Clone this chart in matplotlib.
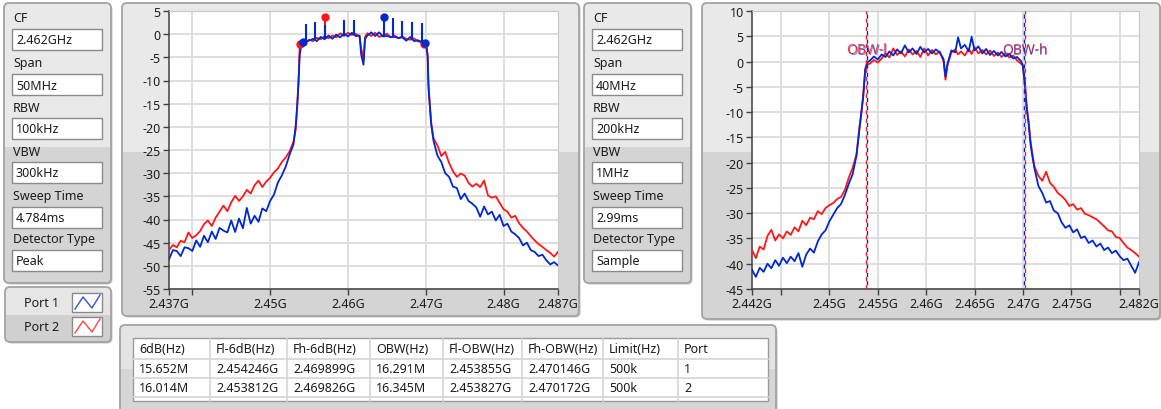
import numpy as np
import matplotlib
matplotlib.use('Agg')
import matplotlib.pyplot as plt
from matplotlib.patches import FancyBboxPatch, Rectangle

plt.rcParams['font.family'] = ['Noto Sans', 'DejaVu Sans']

W, H = 1161, 410
BLUE = '#0028d0'
RED = '#ff1616'
TXT = '#1c1c1c'

# ---- settings / legend / table ----
set_labels = ['CF', 'Span', 'RBW', 'VBW', 'Sweep Time', 'Detector Type']
set1_values = ['2.462GHz', '50MHz', '100kHz', '300kHz', '4.784ms', 'Peak']
set2_values = ['2.462GHz', '40MHz', '200kHz', '1MHz', '2.99ms', 'Sample']
legend_names = ['Port 1', 'Port 2']
table_head = ['6dB(Hz)', 'Fl-6dB(Hz)', 'Fh-6dB(Hz)', 'OBW(Hz)', 'Fl-OBW(Hz)',
              'Fh-OBW(Hz)', 'Limit(Hz)', 'Port']
table_rows = [['15.652M', '2.454246G', '2.469899G', '16.291M', '2.453855G', '2.470146G', '500k', '1'],
              ['16.014M', '2.453812G', '2.469826G', '16.345M', '2.453827G', '2.470172G', '500k', '2']]

# ---- chart 1 (span 50 MHz), frequencies in MHz ----
c1_xticks = [2.437, 2.44, 2.45, 2.46, 2.47, 2.48, 2.487]
c1_xlabels = ['2.437G', '', '2.45G', '2.46G', '2.47G', '2.48G', '2.487G']
c1_xgrid = [2.44, 2.45, 2.46, 2.47, 2.48]
c1_yticks = [5, 0, -5, -10, -15, -20, -25, -30, -35, -40, -45, -50, -55]

f1 = [2437.0, 2437.5, 2438.0, 2438.5, 2439.0, 2439.5, 2440.0, 2440.5, 2441.0, 2441.5,
      2442.0, 2442.5, 2443.0, 2443.5, 2444.0, 2444.5, 2445.0, 2445.5, 2446.0, 2446.5,
      2447.0, 2447.5, 2448.0, 2448.5, 2449.0, 2449.5, 2450.0, 2450.5, 2451.0, 2451.5,
      2452.0, 2452.5, 2453.0,
      2453.3, 2453.5, 2453.65, 2453.8, 2454.0, 2454.25,
      2454.5, 2455.0, 2455.5, 2456.0, 2456.5, 2457.0, 2457.5, 2458.0, 2458.5, 2459.0,
      2459.5, 2460.0, 2460.5, 2461.0, 2461.5, 2461.7, 2462.0, 2462.2, 2462.5, 2463.0,
      2463.5, 2464.0, 2464.5, 2465.0, 2465.5, 2466.0, 2466.5, 2467.0, 2467.5, 2468.0,
      2468.5, 2469.0, 2469.5,
      2469.9, 2470.1, 2470.25, 2470.35, 2470.5, 2470.7, 2471.0,
      2471.5, 2472.0, 2472.5, 2473.0, 2473.5, 2474.0, 2474.5, 2475.0, 2475.5, 2476.0,
      2476.5, 2477.0, 2477.5, 2478.0, 2478.5, 2479.0, 2479.5, 2480.0, 2480.5, 2481.0,
      2481.5, 2482.0, 2482.5, 2483.0, 2483.5, 2484.0, 2484.5, 2485.0, 2485.5, 2486.0,
      2486.5, 2487.0]
c1_port1 = [-48.6, -46.6, -46.8, -47.9, -46.0, -46.2, -46.8, -44.5, -45.9, -43.5,
            -44.9, -42.6, -44.2, -41.8, -42.4, -42.8, -40.2, -42.7, -39.8, -41.9,
            -37.5, -40.9, -39.2, -40.5, -37.6, -38.2, -36.0, -34.6, -32.0, -30.5,
            -28.6, -26.0, -23.8,
            -19.5, -14.8, -10.0, -4.5, -2.4, -1.9,
            -1.6, -1.4, -1.0, -1.5, -0.6, -1.1, -0.3, -1.0, -0.1, -0.7,
            0.2, -0.5, 0.3, -0.4, -0.3, -4.4, -6.6, -1.0, -0.3, 0.4,
            -0.4, 0.4, -0.5, -0.4, -0.6, -0.6, -0.8, -0.7, -1.4, -0.6,
            -1.5, -1.3, -1.9,
            -2.0, -2.6, -5.0, -11.5, -15.0, -19.5, -23.0,
            -26.2, -27.6, -30.0, -30.8, -32.9, -33.2, -35.6, -34.4, -36.0, -36.6,
            -37.4, -39.4, -37.2, -38.9, -38.3, -40.2, -39.0, -41.4, -40.9, -42.6,
            -43.2, -44.0, -45.6, -45.0, -46.6, -47.0, -47.9, -47.6, -48.8, -49.7,
            -49.2, -49.9]
c1_port2 = [-46.6, -45.5, -46.0, -44.6, -44.9, -42.8, -44.0, -43.4, -42.5, -41.0,
            -40.2, -41.4, -39.6, -38.3, -37.0, -38.2, -36.3, -34.9, -36.0, -35.0,
            -33.6, -34.4, -32.6, -31.6, -33.0, -31.8, -31.0, -29.8, -29.0, -27.6,
            -26.6, -25.3, -23.2,
            -20.5, -15.0, -10.5, -2.3, -2.0, -1.8,
            -1.8, -1.2, -1.5, -0.8, -1.1, -0.4, -0.9, -0.3, -0.7, 0.2,
            -0.4, 0.3, -0.2, 0.1, -0.6, -3.0, -5.5, -0.6, 0.2, -0.4,
            0.3, -0.6, -0.3, 0.1, -0.7, -0.3, -0.9, -0.5, -1.0, -1.2,
            -0.9, -1.6, -1.4,
            -2.2, -3.0, -4.6, -10.5, -14.5, -19.0, -22.5,
            -24.0, -26.3, -25.4, -27.8, -29.6, -30.8, -30.1, -30.5, -32.1, -32.9,
            -32.3, -33.0, -31.6, -34.8, -35.3, -35.0, -36.4, -37.8, -38.3, -39.6,
            -39.2, -40.8, -41.8, -42.6, -43.6, -44.5, -45.3, -45.9, -46.6, -47.2,
            -48.0, -47.0]
# narrow spurs on the in-band part
spur1_f = [2454.57, 2455.81, 2457.09, 2459.53, 2460.74, 2464.59, 2465.79, 2466.99, 2468.28, 2469.48]
spur1_top = [2.2, 2.6, 2.0, 3.1, 3.1, 3.6, 3.4, 2.9, 2.6, 2.4]
spur1_base = [-1.6, -1.1, -0.9, -0.3, 0.0, -0.3, -0.3, -0.6, -1.1, -1.7]
spur2_f = [2457.09]
spur2_top = [3.6]
spur2_base = [-0.6]
mk1_f = [2464.59, 2454.246, 2469.899]
mk1_y = [3.6, -1.7, -1.9]
mk2_f = [2457.09, 2453.812, 2469.826]
mk2_y = [3.6, -2.2, -2.1]

# ---- chart 2 (span 40 MHz) ----
c2_xticks = [2.442, 2.445, 2.45, 2.455, 2.46, 2.465, 2.47, 2.475, 2.48, 2.482]
c2_xlabels = ['2.442G', '', '2.45G', '2.455G', '2.46G', '2.465G', '2.47G', '2.475G', '', '2.482G']
c2_xgrid = [2.445, 2.45, 2.455, 2.46, 2.465, 2.47, 2.475, 2.48]
c2_yticks = [10, 5, 0, -5, -10, -15, -20, -25, -30, -35, -40, -45]

f2 = [2442.0, 2442.4, 2442.8, 2443.2, 2443.6, 2444.0, 2444.4, 2444.8, 2445.2, 2445.6,
      2446.0, 2446.4, 2446.8, 2447.2, 2447.6, 2448.0, 2448.4, 2448.8, 2449.2, 2449.6,
      2450.0, 2450.4, 2450.8, 2451.2, 2451.6, 2452.0, 2452.4, 2452.8,
      2453.1, 2453.3, 2453.5, 2453.7, 2453.9,
      2454.2, 2454.6, 2455.0, 2455.4, 2455.8, 2456.2, 2456.6, 2457.0, 2457.4, 2457.8,
      2458.2, 2458.6, 2459.0, 2459.4, 2459.8, 2460.2, 2460.6, 2461.0, 2461.4, 2461.8,
      2462.0, 2462.2, 2462.6, 2463.0, 2463.3, 2463.6, 2464.0, 2464.4, 2464.7, 2465.0,
      2465.4, 2465.8, 2466.2, 2466.6, 2467.0, 2467.4, 2467.8, 2468.2, 2468.6, 2469.0,
      2469.4, 2469.8,
      2470.0, 2470.2, 2470.4, 2470.6, 2470.8, 2471.0, 2471.2,
      2471.6, 2472.0, 2472.4, 2472.8, 2473.2, 2473.6, 2474.0, 2474.4, 2474.8, 2475.2,
      2475.6, 2476.0, 2476.4, 2476.8, 2477.2, 2477.6, 2478.0, 2478.4, 2478.8, 2479.2,
      2479.6, 2480.0, 2480.4, 2480.8, 2481.2, 2481.6, 2482.0]
c2_port1 = [-41.2, -42.6, -40.8, -41.6, -40.0, -40.9, -39.3, -40.4, -38.8, -39.9,
            -38.6, -39.5, -37.9, -40.6, -38.2, -37.0, -37.8, -35.6, -34.2, -33.4,
            -31.6, -30.3, -29.0, -28.2, -26.4, -24.2, -22.3, -18.6,
            -13.5, -10.0, -7.0, -1.5, -0.2,
            0.2, 1.0, 0.4, 1.4, 0.9, 2.0, 1.2, 2.4, 1.6, 3.2,
            1.8, 2.6, 1.5, 2.9, 1.8, 2.5, 1.6, 2.4, 1.8, 0.5,
            -3.0, -0.5, 2.2, 1.8, 4.8, 2.6, 3.3, 2.0, 4.9, 2.2,
            3.0, 1.6, 2.5, 1.3, 2.1, 1.2, 1.9, 1.0, 1.5, 0.6,
            0.9, 0.1,
            -0.8, -4.6, -9.3, -12.5, -16.5, -19.0, -21.2,
            -24.6, -26.0, -27.9, -27.6, -29.5, -30.0, -31.8, -32.9, -32.4, -33.8,
            -33.2, -34.9, -34.6, -35.9, -35.4, -36.6, -36.0, -37.3, -36.8, -37.9,
            -37.4, -38.5, -39.3, -39.0, -40.4, -41.8, -39.7]
c2_port2 = [-37.3, -38.9, -36.6, -37.2, -34.5, -33.3, -35.4, -34.2, -35.0, -33.6,
            -34.3, -32.8, -33.6, -31.5, -32.4, -30.9, -31.2, -29.6, -30.2, -29.0,
            -28.4, -28.0, -27.2, -26.8, -25.4, -23.0, -21.0, -18.4,
            -13.0, -10.4, -6.4, -1.8, -0.6,
            -0.4, 0.3, -0.2, 0.6, 1.6, 0.8, 2.6, 1.3, 2.0, 1.0,
            2.4, 1.4, 2.1, 0.9, 2.6, 1.2, 2.3, 1.4, 2.0, 0.0,
            -3.6, -0.8, 1.8, 2.4, 1.4, 2.0, 1.2, 2.5, 1.5, 2.8,
            1.6, 2.3, 1.4, 2.2, 1.1, 1.8, 0.9, 1.6, 0.8, 1.2,
            0.2, -0.4,
            -0.9, -4.0, -9.0, -12.0, -15.9, -18.5, -20.8,
            -22.6, -23.6, -21.8, -24.0, -24.8, -26.0, -26.6, -27.4, -28.6, -28.2,
            -29.3, -29.0, -30.1, -30.4, -30.8, -31.2, -31.9, -32.6, -33.4, -33.6,
            -34.7, -34.9, -35.9, -36.8, -37.3, -37.9, -38.6]
obw1 = [2.453855, 2.470146]
obw2 = [2.453827, 2.470172]
obw_names = ['OBW-l', 'OBW-h']
obw_label_y = 2.3

fig = plt.figure(figsize=(W / 100, H / 100), dpi=100)
fig.patch.set_facecolor('white')
bg = fig.add_axes([0, 0, 1, 1])
bg.set_xlim(0, W)
bg.set_ylim(H, 0)
bg.axis('off')


def panel(x, y, w, h, split=None, light='#e9e9e9', dark='#d4d4d4'):
    bg.add_patch(FancyBboxPatch((x + 1.5, y + 1.5), w, h, boxstyle='round,pad=0,rounding_size=5',
                                fc='#c4c4c4', ec='none'))
    p = FancyBboxPatch((x, y), w, h, boxstyle='round,pad=0,rounding_size=5', fc=dark, ec='none')
    bg.add_patch(p)
    if split is not None:
        r = Rectangle((x, y), w, split - y, fc=light, ec='none')
        bg.add_patch(r)
        r.set_clip_path(p)
    bg.add_patch(FancyBboxPatch((x, y), w, h, boxstyle='round,pad=0,rounding_size=5',
                                fc='none', ec='#a3a3a3', lw=1.3))


def textbox(x, y, w, h, s):
    bg.add_patch(Rectangle((x, y), w, h, fc='white', ec='#8a8a8a', lw=1))
    bg.text(x + 4, y + h / 2 + 0.5, s, fontsize=9, color=TXT, va='center', ha='left')


label_y = [19, 64, 108, 153, 197, 240]
box_y = [30, 75, 119, 163, 208, 251]
for px, vals in [(4, set1_values), (584, set2_values)]:
    panel(px, 4, 107, 280, split=148)
    for lab, ly, by, v in zip(set_labels, label_y, box_y, vals):
        bg.text(px + 9, ly, lab, fontsize=9, color=TXT, va='center', ha='left')
        textbox(px + 8, by, 90, 21, v)

# legend
panel(5, 288, 106, 55, split=316, light='#e6e6e6', dark='#d0d0d0')
for i, (name, col) in enumerate(zip(legend_names, [BLUE, RED])):
    yc = 304 + 24 * i
    bg.text(24, yc, name, fontsize=9, color=TXT, va='center', ha='left')
    bg.add_patch(Rectangle((72, yc - 10), 30, 19, fc='white', ec='#8a8a8a', lw=1))
    bg.plot([75, 83, 92, 100], [yc + 6, yc - 6, yc + 5, yc - 8], color=col, lw=1, alpha=0.8)

# table
panel(120, 326, 656, 100, split=370, light='#e4e4e4', dark='#d6d6d6')
col_x = [133, 210, 287, 370, 443, 522, 603, 678, 768]
bg.add_patch(Rectangle((133, 339), 635, 63, fc='white', ec='#9a9a9a', lw=1))
for yl in [360, 379, 398]:
    bg.plot([133, 768], [yl, yl], color='#d4d4d4', lw=1.2)
for xl in col_x[1:-1]:
    bg.plot([xl, xl], [339, 402], color='#d4d4d4', lw=1.2)
for j, hd in enumerate(table_head):
    bg.text(col_x[j] + 6, 350, hd, fontsize=9, color=TXT, va='center', ha='left')
for i, row in enumerate(table_rows):
    for j, cell in enumerate(row):
        bg.text(col_x[j] + 6, 370 + 19 * i, cell, fontsize=9, color=TXT, va='center', ha='left')

# chart panels
panel(122, 4, 457, 313, split=153)
panel(702, 4, 458, 316, split=153)


def make_axes(x0, x1, y0, y1):
    return fig.add_axes([x0 / W, 1 - y1 / H, (x1 - x0) / W, (y1 - y0) / H])


def style(ax, xlim, ylim, xt, xl, xg, yt):
    ax.set_facecolor('white')
    ax.set_xlim(xlim)
    ax.set_ylim(ylim)
    ax.set_xticks(xt)
    ax.set_xticklabels(xl)
    ax.set_yticks(yt)
    ax.set_yticklabels([str(v) for v in yt])
    for g in xg:
        ax.axvline(g, color='#dedede', lw=1.4, zorder=0)
    for g in yt:
        ax.axhline(g, color='#dedede', lw=1.4, zorder=0)
    ax.tick_params(direction='out', length=4, width=1, color='#404040',
                   labelsize=9, labelcolor=TXT, pad=2)
    for s in ['left', 'bottom']:
        ax.spines[s].set_color('#404040')
        ax.spines[s].set_linewidth(1.1)
    for s in ['top', 'right']:
        ax.spines[s].set_color('#c8c8c8')


ax1 = make_axes(169, 558, 12, 290)
style(ax1, (2.437, 2.487), (-55, 5), c1_xticks, c1_xlabels, c1_xgrid, c1_yticks)
g1 = np.array(f1) / 1000
ax1.plot(g1, c1_port2, color=RED, lw=1.3, zorder=3)
ax1.vlines(np.array(spur2_f) / 1000, spur2_base, spur2_top, color=RED, lw=1.5, zorder=3)
ax1.plot(g1, c1_port1, color=BLUE, lw=1.3, zorder=4)
ax1.vlines(np.array(spur1_f) / 1000, spur1_base, spur1_top, color=BLUE, lw=1.5, zorder=4)
ax1.plot(np.array(mk2_f) / 1000, mk2_y, 'o', color=RED, ms=5, zorder=5)
ax1.plot(np.array(mk1_f) / 1000, mk1_y, 'o', color=BLUE, ms=5, zorder=5)

ax2 = make_axes(752, 1139, 12, 290)
style(ax2, (2.442, 2.482), (-45, 10), c2_xticks, c2_xlabels, c2_xgrid, c2_yticks)
g2 = np.array(f2) / 1000
for xv, name in zip(obw2, obw_names):
    ax2.text(xv, obw_label_y, name, color=RED, fontsize=10, ha='center', va='center', zorder=2, alpha=0.8)
for xv, name in zip(obw1, obw_names):
    ax2.text(xv + 0.00008, obw_label_y - 0.15, name, color=BLUE, fontsize=10, ha='center', va='center',
             zorder=2, alpha=0.55)
ax2.plot(g2, c2_port2, color=RED, lw=1.3, zorder=3)
ax2.plot(g2, c2_port1, color=BLUE, lw=1.3, zorder=4)
for xv in obw2:
    ax2.axvline(xv, color=RED, lw=1, ls=(0, (3, 3)), zorder=5)
for xv in obw1:
    ax2.axvline(xv, color=BLUE, lw=1, ls=(3, (3, 3)), zorder=5)

fig.savefig('out.png', dpi=100, facecolor='white')
